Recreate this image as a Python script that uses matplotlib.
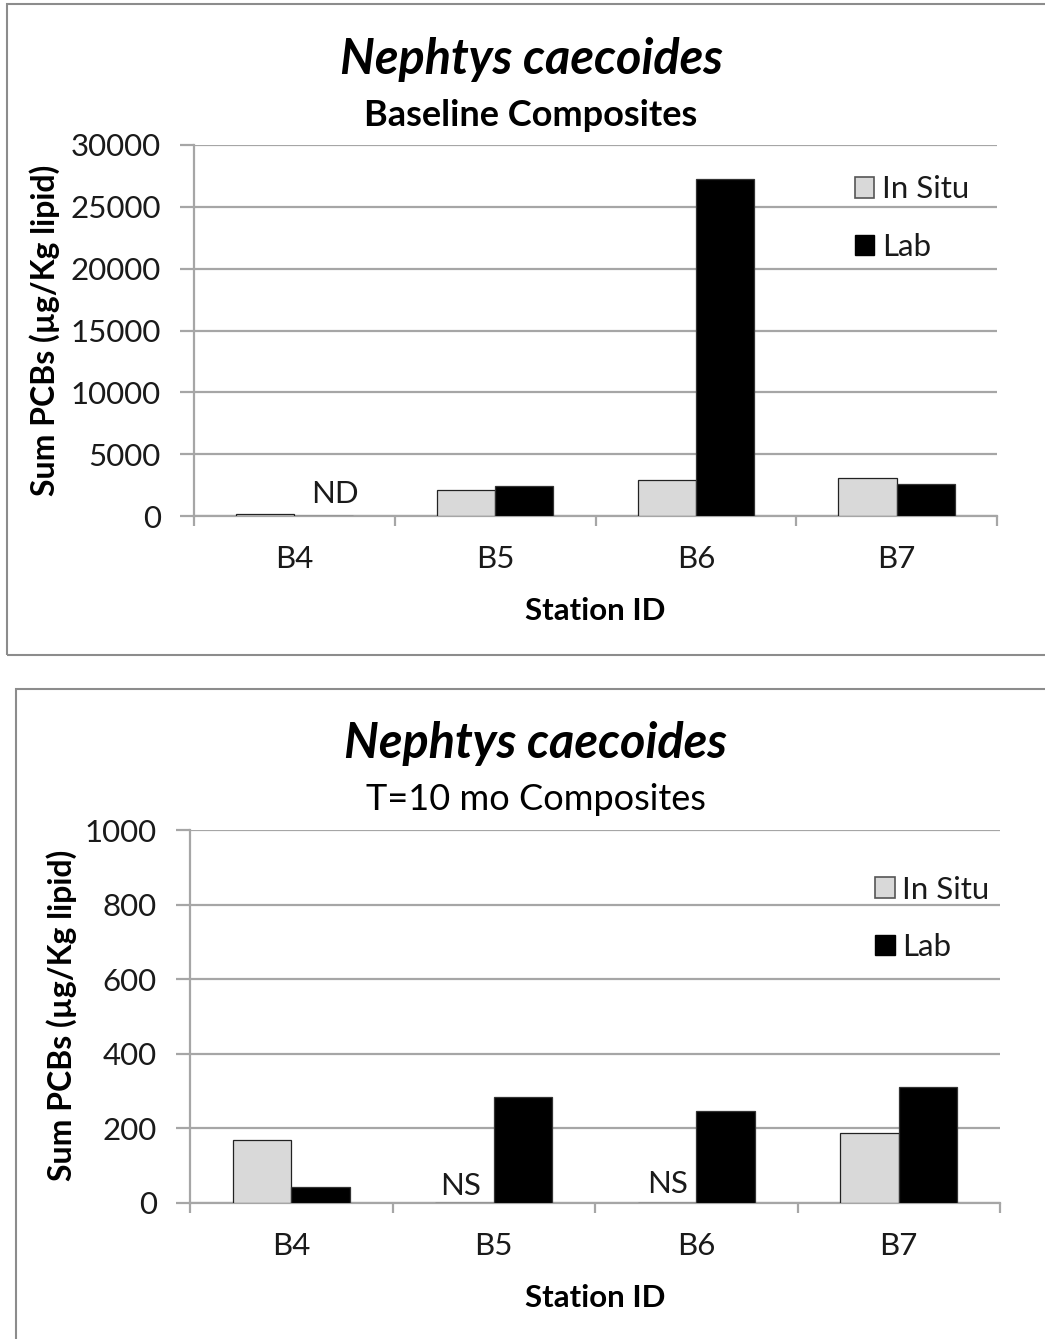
import numpy as np
import matplotlib.pyplot as plt
from matplotlib.patches import Rectangle, Patch

plt.rcParams['font.family'] = ['Lato', 'DejaVu Sans']

stations = ['B4', 'B5', 'B6', 'B7']
series = ['In Situ', 'Lab']

# baseline composites (ug/Kg lipid); B4 Lab not detected
base_insitu = [200, 2100, 2900, 3070]
base_lab = [0, 2430, 27250, 2590]

# T=10 mo composites; B5, B6 in situ not sampled
t10_insitu = [169, 0, 0, 188]
t10_lab = [43, 284, 247, 311]

W, H = 1045, 1339
fig = plt.figure(figsize=(W / 100, H / 100), dpi=100)
FS = 22.5

def px_axes(x0, y0, x1, y1):
	return fig.add_axes([x0 / W, 1 - y1 / H, (x1 - x0) / W, (y1 - y0) / H])

def draw_panel(ax, insitu, lab, ymax, ystep, leg_xy):
	x = np.arange(len(stations))
	bw = 0.29
	ax.bar(x - bw / 2, insitu, bw, color='#d9d9d9', edgecolor='#222222', linewidth=0.9, zorder=3)
	ax.bar(x + bw / 2, lab, bw, color='black', edgecolor='#333333', linewidth=0.9, zorder=3)
	ax.set_xlim(-0.5, 3.5)
	ax.set_ylim(0, ymax)
	ax.set_yticks(np.arange(0, ymax + 1, ystep))
	ax.yaxis.grid(True, color='#a6a6a6', linewidth=1.6, zorder=0)
	ax.set_axisbelow(True)
	for s in ['top', 'right']:
		ax.spines[s].set_visible(False)
	for s in ['left', 'bottom']:
		ax.spines[s].set_color('#a6a6a6')
		ax.spines[s].set_linewidth(1.6)
	ax.set_xticks(np.arange(-0.5, 4, 1.0))
	ax.set_xticklabels([''] * 5)
	ax.set_xticks(x, minor=True)
	ax.set_xticklabels(stations, minor=True)
	ax.tick_params(axis='x', which='major', length=7, width=1.6, color='#a6a6a6')
	ax.tick_params(axis='x', which='minor', length=0, pad=21, labelsize=FS, labelcolor='#1a1a1a')
	ax.tick_params(axis='y', length=10, width=1.6, color='#a6a6a6', pad=14, labelsize=FS, labelcolor='#1a1a1a')
	handles = [Patch(facecolor='#d9d9d9', edgecolor='#555555', linewidth=1.2),
		Patch(facecolor='black', edgecolor='black')]
	ax.legend(handles, series, loc='upper left', bbox_to_anchor=leg_xy, frameon=False,
		fontsize=FS, handlelength=0.62, handleheight=0.62, handletextpad=0.25,
		labelspacing=0.95, borderpad=0, borderaxespad=0, labelcolor='#1a1a1a')

# panel borders
for x0, y0, x1, y1 in [(7, 4, 1060, 655), (16, 689, 1060, 1360)]:
	fig.add_artist(Rectangle((x0 / W, 1 - y1 / H), (x1 - x0) / W, (y1 - y0) / H,
		transform=fig.transFigure, fill=False, edgecolor='#8c8c8c', linewidth=1.5))

ax1 = px_axes(194, 145, 997, 516)
draw_panel(ax1, base_insitu, base_lab, 30000, 5000, (0.823, 0.918))
ax1.text(0.2, 1800, 'ND', ha='center', va='center', fontsize=FS, color='#1a1a1a')

ax2 = px_axes(190, 830, 1000, 1203)
draw_panel(ax2, t10_insitu, t10_lab, 1000, 200, (0.846, 0.878))
ax2.text(1 - 0.165, 46, 'NS', ha='center', va='center', fontsize=FS, color='#1a1a1a')
ax2.text(2 - 0.14, 51, 'NS', ha='center', va='center', fontsize=FS, color='#1a1a1a')

# titles and axis labels
fig.text(531 / W, 1 - 60 / H, 'Nephtys caecoides', ha='center', va='center',
	fontsize=35, fontweight='bold', fontstyle='italic')
fig.text(531 / W, 1 - 115 / H, 'Baseline Composites', ha='center', va='center',
	fontsize=26, fontweight='bold')
fig.text(536 / W, 1 - 744 / H, 'Nephtys caecoides', ha='center', va='center',
	fontsize=35, fontweight='bold', fontstyle='italic')
fig.text(536 / W, 1 - 800 / H, 'T=10 mo Composites', ha='center', va='center',
	fontsize=26)

for xl, yl in [(45, 330), (62, 1015)]:
	fig.text(xl / W, 1 - yl / H, 'Sum PCBs (µg/Kg lipid)', ha='center', va='center',
		rotation=90, fontsize=23, fontweight='bold')
for yl in [611, 1298]:
	fig.text(595 / W, 1 - yl / H, 'Station ID', ha='center', va='center',
		fontsize=22.5, fontweight='bold')

fig.savefig('out.png', dpi=100)
